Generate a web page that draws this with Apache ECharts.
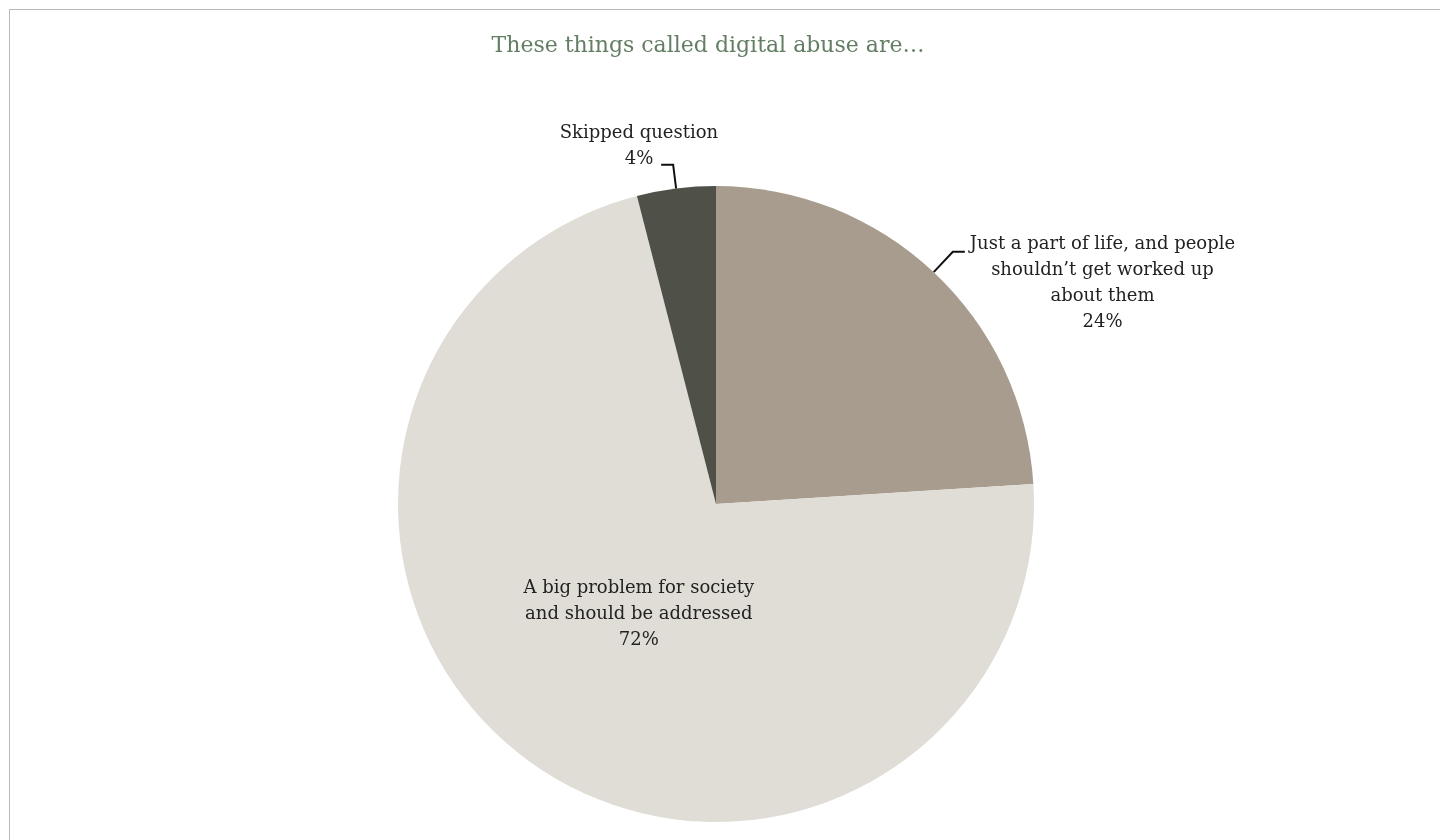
<!DOCTYPE html>
<html>
<head>
<meta charset="utf-8">
<script src="https://cdn.jsdelivr.net/npm/echarts@6/dist/echarts.min.js"></script>
<style>
html,body{margin:0;padding:0;background:#fff;overflow:hidden;}
#frame{position:absolute;left:9px;top:9px;width:1500px;height:900px;border-left:1px solid #bdb9b5;border-top:1px solid #bdb9b5;}
#chart{position:absolute;left:0;top:0;width:1440px;height:840px;}
</style>
</head>
<body>
<div id="frame"></div>
<div id="chart"></div>
<script>
const titleText = "These things called digital abuse are…";
const categories = [
  "Just a part of life, and people\nshouldn’t get worked up\nabout them",
  "A big problem for society\nand should be addressed",
  "Skipped question"
];
const values = [24, 72, 4];
const colors = ["#a89c8f", "#e0ddd6", "#4f5048"];

const FONT = "DejaVu Serif";
const chart = echarts.init(document.getElementById('chart'));

const labelShift = [
  {dx: 0, dy: 32},
  {dx: 18, dy: -21},
  {dx: 62, dy: -18}
];
const lineLen = [28, 0, 24];

const data = categories.map((c, i) => ({
  name: c,
  value: values[i],
  itemStyle: {color: colors[i]},
  label: i === 1 ? {position: 'inside'} : {position: 'outside'},
  labelLine: {show: i !== 1, length: lineLen[i] || 24}
}));

chart.setOption({
  animation: false,
  title: {
    text: titleText,
    left: 703, top: 30, textAlign: 'center',
    textStyle: {fontFamily: FONT, fontSize: 22, fontWeight: 'normal', color: '#647e64'}
  },
  series: [{
    type: 'pie',
    center: [716, 504],
    radius: 318,
    startAngle: 90,
    clockwise: true,
    avoidLabelOverlap: false,
    data: data,
    itemStyle: {borderWidth: 0},
    label: {
      show: true,
      formatter: p => (p.name + '\n' + p.value + '%').split('\n').map(s => '{c|' + s + '}').join('\n'),
      fontFamily: FONT, fontSize: 18, lineHeight: 26, color: '#222',
      rich: {
        c: {align: 'center', fontFamily: FONT, fontSize: 18, lineHeight: 26, color: '#222'}
      },
      distanceToLabelLine: 5
    },
    labelLine: {
      show: true, length: 24, length2: 12,
      lineStyle: {color: '#111', width: 2}
    },
    labelLayout: function (p) {
      const s = labelShift[p.dataIndex];
      const out = {dx: s.dx, dy: s.dy};
      if (p.labelLinePoints) out.labelLinePoints = p.labelLinePoints;
      return out;
    },
    emphasis: {disabled: true}
  }]
});
</script>
</body>
</html>
